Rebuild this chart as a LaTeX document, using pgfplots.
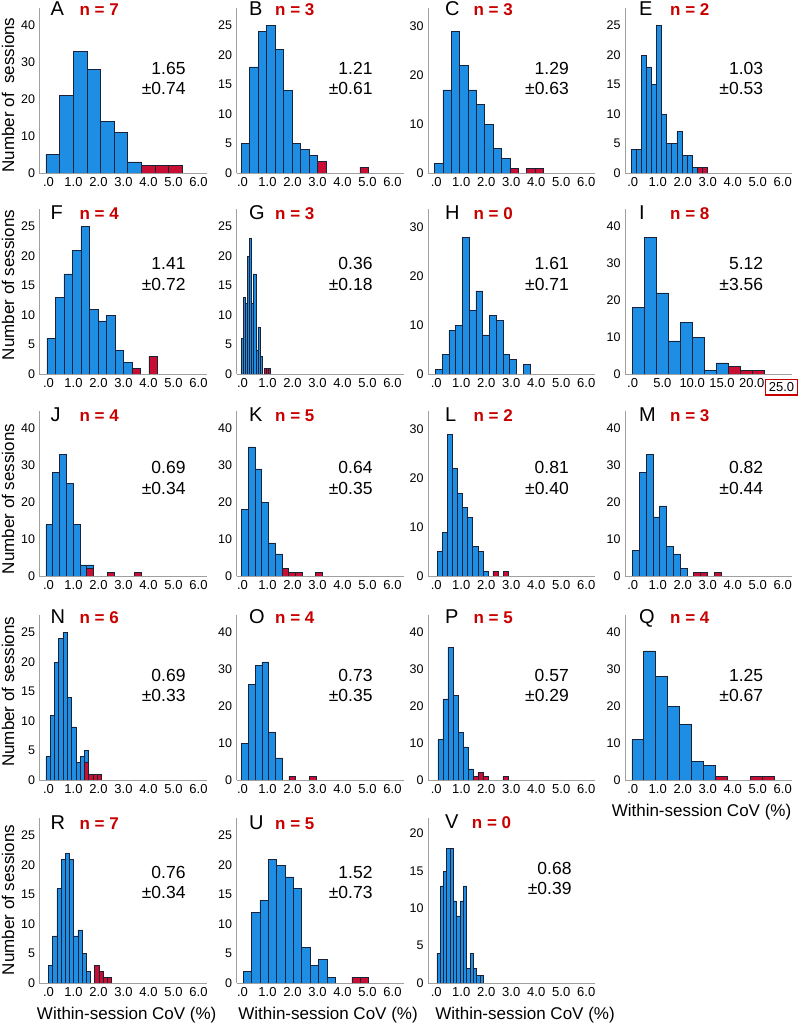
\documentclass[border=0pt]{standalone}
\usepackage{fontspec}
\setmainfont{Liberation Sans}
\usepackage{pgfplots}
\pgfplotsset{compat=1.18}
\definecolor{barblue}{RGB}{30,142,228}
\definecolor{barred}{RGB}{200,14,50}
\definecolor{nred}{RGB}{200,0,0}
\definecolor{axgray}{RGB}{160,160,160}
\definecolor{edgec}{RGB}{25,35,55}
\newcommand{\ticf}{\fontsize{13}{14}\selectfont}
\newcommand{\yticf}{\fontsize{12.5}{14}\selectfont}
\newcommand{\letf}{\fontsize{20}{22}\selectfont}
\newcommand{\nf}{\fontsize{17}{19}\selectfont\bfseries}
\newcommand{\stf}{\fontsize{17.5}{20}\selectfont}
\newcommand{\labf}{\fontsize{17}{20}\selectfont}
\setlength{\fboxsep}{2.5pt}
\setlength{\fboxrule}{1.4pt}
\pgfplotsset{
  panel/.style={scale only axis, width=167pt, height=165pt, anchor=south west,
    axis lines=left, axis line style={-, draw=axgray, line width=0.9pt},
    ymin=0, major tick length=0pt,
    xtick={0,1,2,3,4,5,6}, xticklabels={.0,1.0,2.0,3.0,4.0,5.0,6.0},
    xticklabel style={font=\ticf, yshift=-1pt},
    yticklabel style={font=\yticf, xshift=-1pt},
    /pgf/number format/assume math mode=true},
  c1/.style={xmin=-0.36, xmax=6.32},
  c2/.style={xmin=-0.24, xmax=6.44},
  c3/.style={xmin=-0.33, xmax=6.35},
  c4/.style={xmin=-0.31, xmax=6.37},
  y40/.style={ymax=44.7, ytick={0,10,20,30,40}},
  y30/.style={ymax=33.8, ytick={0,10,20,30}},
  y25/.style={ymax=28, ytick={0,5,10,15,20,25}},
  y20/.style={ymax=22.1, ytick={0,5,10,15,20}},
  bb/.style={ybar, bar shift=0pt, fill=barblue, draw=edgec, line width=0.5pt, bar width=#1},
  rb/.style={ybar, bar shift=0pt, fill=barred, draw=edgec, line width=0.5pt, bar width=#1},
}
\begin{document}
\begin{tikzpicture}
\useasboundingbox (0,0) rectangle (797pt,1024pt);
% ---------- Row 1 ----------
\begin{axis}[panel, c1, y40, at={(39.5pt,851pt)}]
\addplot[bb=0.546] coordinates {(0.165,5) (0.711,21) (1.257,33) (1.803,28) (2.349,14) (2.895,11) (3.441,3)};
\addplot[rb=0.546] coordinates {(3.987,2) (4.533,2) (5.079,2)};
\end{axis}
\begin{axis}[panel, c2, y25, at={(236.5pt,851pt)}]
\addplot[bb=0.339] coordinates {(0.120,5) (0.459,18) (0.798,24) (1.137,25) (1.476,21) (1.815,14) (2.154,5) (2.493,4) (2.832,3)};
\addplot[rb=0.339] coordinates {(3.171,2) (4.866,1)};
\end{axis}
\begin{axis}[panel, c3, y30, at={(428pt,851pt)}]
\addplot[bb=0.334] coordinates {(0.101,2) (0.435,17) (0.769,29) (1.103,22) (1.437,17) (1.771,14) (2.105,10) (2.439,5) (2.773,3)};
\addplot[rb=0.334] coordinates {(3.107,1) (3.775,1) (4.109,1)};
\end{axis}
\begin{axis}[panel, c4, y25, at={(625pt,851pt)}]
\addplot[bb=0.203] coordinates {(0.036,4) (0.239,4) (0.442,20) (0.645,18) (0.848,15) (1.051,25) (1.254,10) (1.457,5) (1.660,5) (1.863,7) (2.066,3) (2.269,3) (2.472,1)};
\addplot[rb=0.203] coordinates {(2.675,1) (2.878,1)};
\end{axis}
% ---------- Row 2 ----------
\begin{axis}[panel, c1, y25, at={(39.5pt,650pt)}]
\addplot[bb=0.34] coordinates {(0.103,6) (0.443,13) (0.783,17) (1.123,21) (1.463,25) (1.803,11) (2.143,9) (2.483,10) (2.823,4) (3.163,2)};
\addplot[rb=0.34] coordinates {(3.503,1) (4.183,3)};
\end{axis}
\begin{axis}[panel, c2, y25, at={(236.5pt,650pt)}]
\addplot[bb=0.083] coordinates {(-0.009,6) (0.075,13) (0.158,12) (0.241,20) (0.324,23) (0.407,12) (0.490,17) (0.573,4) (0.656,8) (0.739,3)};
\addplot[rb=0.083] coordinates {(0.905,1) (0.988,1) (1.071,1)};
\end{axis}
\begin{axis}[panel, c3, y30, at={(428pt,650pt)}]
\addplot[bb=0.27] coordinates {(0.095,1) (0.365,4) (0.635,9) (0.905,10) (1.175,28) (1.445,13) (1.715,17) (1.985,8) (2.255,12) (2.525,11) (2.795,4) (3.065,3) (3.605,2)};
\end{axis}
\begin{axis}[panel, y40, xmin=-1.28, xmax=26.77, at={(625pt,650pt)},
  xtick={0,5,10,15,20,25}, xticklabels={.0,5.0,10.0,15.0,20.0,{\fcolorbox{nred}{white}{25.0}}}]
\addplot[bb=2.01] coordinates {(0.955,18) (2.965,37) (4.975,22) (6.985,9) (8.995,14) (11.005,10) (13.015,1) (15.025,3)};
\addplot[rb=2.01] coordinates {(17.035,2) (19.045,1) (21.055,1)};
\end{axis}
% ---------- Row 3 ----------
\begin{axis}[panel, c1, y40, at={(39.5pt,448pt)}]
\addplot[bb=0.272] coordinates {(0.029,14) (0.301,28) (0.573,33) (0.845,25) (1.117,14) (1.389,3) (1.661,3)};
\addplot[rb=0.272] coordinates {(1.661,2) (2.477,1) (3.565,1)};
\end{axis}
\begin{axis}[panel, c2, y40, at={(236.5pt,448pt)}]
\addplot[bb=0.269] coordinates {(0.095,18) (0.364,35) (0.633,29) (0.902,20) (1.171,9) (1.440,6)};
\addplot[rb=0.269] coordinates {(1.709,2) (1.978,1) (2.247,1) (3.054,1)};
\end{axis}
\begin{axis}[panel, c3, y30, at={(428pt,448pt)}]
\addplot[bb=0.2026] coordinates {(0.141,5) (0.344,9) (0.547,29) (0.749,22) (0.952,17) (1.154,14) (1.357,12) (1.560,6) (1.762,5) (1.965,1)};
\addplot[rb=0.2026] coordinates {(2.370,1) (2.775,1)};
\end{axis}
\begin{axis}[panel, c4, y40, at={(625pt,448pt)}]
\addplot[bb=0.272] coordinates {(0.123,7) (0.395,28) (0.667,33) (0.939,16) (1.211,19) (1.483,8) (1.755,6) (2.027,2)};
\addplot[rb=0.272] coordinates {(2.571,1) (2.843,1) (3.387,1)};
\end{axis}
% ---------- Row 4 ----------
\begin{axis}[panel, c1, y25, at={(39.5pt,244pt)}]
\addplot[bb=0.171] coordinates {(-0.021,4) (0.151,11) (0.322,20) (0.493,24) (0.664,25) (0.835,14) (1.006,9) (1.177,3) (1.348,4) (1.519,5)};
\addplot[rb=0.171] coordinates {(1.519,3) (1.690,1) (1.861,1) (2.032,1)};
\end{axis}
\begin{axis}[panel, c2, y40, at={(236.5pt,244pt)}]
\addplot[bb=0.27] coordinates {(0.095,10) (0.365,26) (0.635,31) (0.905,32) (1.175,13) (1.445,6)};
\addplot[rb=0.27] coordinates {(1.985,1) (2.795,1)};
\end{axis}
\begin{axis}[panel, c3, y40, at={(428pt,244pt)}]
\addplot[bb=0.2] coordinates {(0.166,11) (0.366,22) (0.566,36) (0.766,23) (0.966,13) (1.166,9) (1.366,3)};
\addplot[rb=0.2] coordinates {(1.566,1) (1.766,2) (1.966,1) (2.766,1)};
\end{axis}
\begin{axis}[panel, c4, y40, at={(625pt,244pt)}]
\addplot[bb=0.475] coordinates {(0.198,11) (0.673,35) (1.148,28) (1.623,20) (2.098,15) (2.573,5) (3.048,4)};
\addplot[rb=0.475] coordinates {(3.523,1) (4.948,1) (5.423,1)};
\end{axis}
% ---------- Row 5 ----------
\begin{axis}[panel, c1, y25, at={(39.5pt,41pt)}]
\addplot[bb=0.168] coordinates {(0.084,3) (0.252,8) (0.420,16) (0.588,21) (0.756,22) (0.924,21) (1.092,8) (1.260,9) (1.428,5) (1.596,2)};
\addplot[rb=0.168] coordinates {(1.932,3) (2.100,2) (2.268,1) (2.436,1)};
\end{axis}
\begin{axis}[panel, c2, y25, at={(236.5pt,41pt)}]
\addplot[bb=0.334] coordinates {(0.197,2) (0.531,12) (0.865,14) (1.199,21) (1.533,20) (1.867,18) (2.201,16) (2.535,6) (2.869,3) (3.203,4) (3.537,1)};
\addplot[rb=0.334] coordinates {(4.539,1) (4.873,1)};
\end{axis}
\begin{axis}[panel, c3, y20, at={(428pt,41pt)}]
\addplot[bb=0.133] coordinates {(0.087,4) (0.220,13) (0.353,15) (0.486,18) (0.619,18) (0.752,11) (0.885,9) (1.018,11) (1.151,13) (1.284,2) (1.417,4) (1.550,2) (1.683,1) (1.816,1)};
\end{axis}
% ---------- Texts ----------
\tikzset{lt/.style={anchor=base west, inner sep=0pt, font=\letf},
         nt/.style={anchor=base west, inner sep=0pt, font=\nf, text=nred},
         st/.style={anchor=base east, inner sep=0pt, font=\stf}}
% row 1
\node[lt] at (50.5pt,1008pt) {A}; \node[nt] at (79.3pt,1008pt) {n = 7};
\node[lt] at (249pt,1008pt) {B};  \node[nt] at (275pt,1008pt) {n = 3};
\node[lt] at (445pt,1008pt) {C};  \node[nt] at (473.3pt,1008pt) {n = 3};
\node[lt] at (639pt,1008pt) {E};  \node[nt] at (670pt,1008pt) {n = 2};
\node[st] at (185.7pt,949pt) {1.65}; \node[st] at (185.7pt,929pt) {±0.74};
\node[st] at (372.7pt,949pt) {1.21}; \node[st] at (372.7pt,929pt) {±0.61};
\node[st] at (569pt,949pt) {1.29};   \node[st] at (569pt,929pt) {±0.63};
\node[st] at (763.3pt,949pt) {1.03}; \node[st] at (763.3pt,929pt) {±0.53};
% row 2
\node[lt] at (50.5pt,804pt) {F}; \node[nt] at (79.3pt,804pt) {n = 4};
\node[lt] at (249pt,804pt) {G};  \node[nt] at (275pt,804pt) {n = 3};
\node[lt] at (445pt,804pt) {H};  \node[nt] at (473.3pt,804pt) {n = 0};
\node[lt] at (639pt,804pt) {I};  \node[nt] at (670pt,804pt) {n = 8};
\node[st] at (185.7pt,754pt) {1.41}; \node[st] at (185.7pt,733pt) {±0.72};
\node[st] at (372.7pt,754pt) {0.36}; \node[st] at (372.7pt,733pt) {±0.18};
\node[st] at (569pt,754pt) {1.61};   \node[st] at (569pt,733pt) {±0.71};
\node[st] at (763.3pt,754pt) {5.12}; \node[st] at (763.3pt,733pt) {±3.56};
% row 3
\node[lt] at (50.5pt,602.3pt) {J}; \node[nt] at (79.3pt,602.3pt) {n = 4};
\node[lt] at (249pt,602.3pt) {K};  \node[nt] at (275pt,602.3pt) {n = 5};
\node[lt] at (445pt,602.3pt) {L};  \node[nt] at (473.3pt,602.3pt) {n = 2};
\node[lt] at (639pt,602.3pt) {M};  \node[nt] at (670pt,602.3pt) {n = 3};
\node[st] at (185.7pt,550.7pt) {0.69}; \node[st] at (185.7pt,529pt) {±0.34};
\node[st] at (372.7pt,550.7pt) {0.64}; \node[st] at (372.7pt,529pt) {±0.35};
\node[st] at (569pt,550.7pt) {0.81};   \node[st] at (569pt,529pt) {±0.40};
\node[st] at (763.3pt,550.7pt) {0.82}; \node[st] at (763.3pt,529pt) {±0.44};
% row 4
\node[lt] at (50.5pt,400.7pt) {N}; \node[nt] at (79.3pt,400.7pt) {n = 6};
\node[lt] at (249pt,400.7pt) {O};  \node[nt] at (275pt,400.7pt) {n = 4};
\node[lt] at (445pt,400.7pt) {P};  \node[nt] at (473.3pt,400.7pt) {n = 5};
\node[lt] at (639pt,400.7pt) {Q};  \node[nt] at (670pt,400.7pt) {n = 4};
\node[st] at (185.7pt,342.3pt) {0.69}; \node[st] at (185.7pt,322.3pt) {±0.33};
\node[st] at (372.7pt,342.3pt) {0.73}; \node[st] at (372.7pt,322.3pt) {±0.35};
\node[st] at (569pt,342.3pt) {0.57};   \node[st] at (569pt,322.3pt) {±0.29};
\node[st] at (763.3pt,342.3pt) {1.25}; \node[st] at (763.3pt,322.3pt) {±0.67};
% row 5
\node[lt] at (50.5pt,194pt) {R}; \node[nt] at (79.3pt,194pt) {n = 7};
\node[lt] at (249pt,194pt) {U};  \node[nt] at (275pt,194pt) {n = 5};
\node[lt] at (445pt,195.7pt) {V};  \node[nt] at (471.7pt,195.7pt) {n = 0};
\node[st] at (185.7pt,145.7pt) {0.76}; \node[st] at (185.7pt,125.7pt) {±0.34};
\node[st] at (372.7pt,145.7pt) {1.52}; \node[st] at (372.7pt,125.7pt) {±0.73};
\node[st] at (571.7pt,149pt) {0.68};   \node[st] at (571.7pt,129pt) {±0.39};
% axis labels
\tikzset{yl/.style={rotate=90, anchor=base, inner sep=0pt, font=\labf},
         xl/.style={anchor=base, inner sep=0pt, font=\labf}}
\node[yl] at (14pt,929pt) {Number of\ \ sessions};
\node[yl] at (14pt,739pt) {Number of sessions};
\node[yl] at (14pt,525pt) {Number of sessions};
\node[yl] at (14pt,332.3pt) {Number of sessions};
\node[yl] at (14pt,124pt) {Number of sessions};
\node[xl] at (126.7pt,5pt) {Within-session CoV (\%)};
\node[xl] at (328pt,5pt) {Within-session CoV (\%)};
\node[xl] at (525pt,5pt) {Within-session CoV (\%)};
\node[xl] at (701.5pt,207.3pt) {Within-session CoV (\%)};
\end{tikzpicture}
\end{document}
